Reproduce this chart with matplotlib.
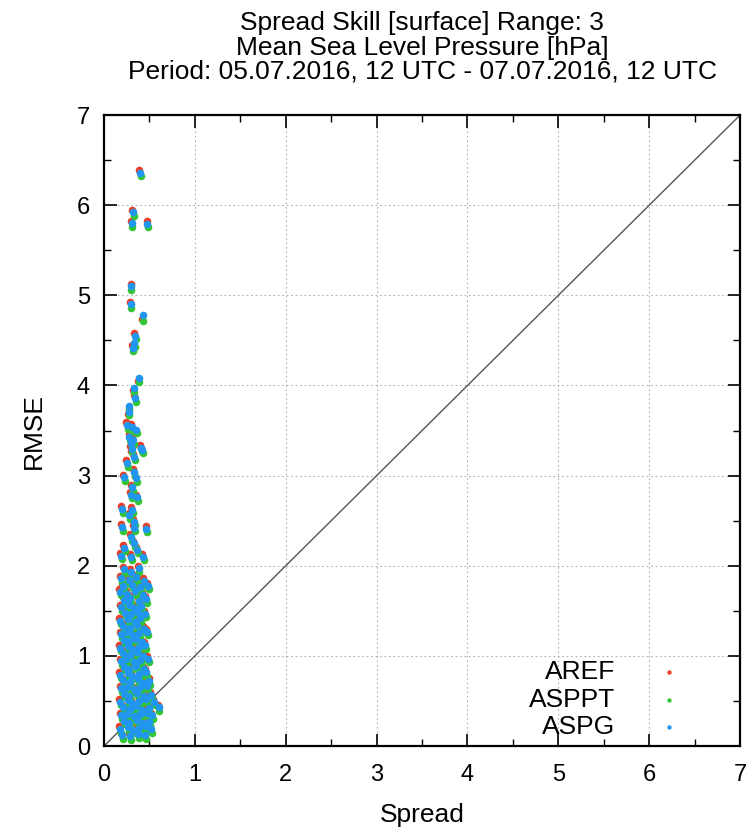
import matplotlib
matplotlib.use("Agg")
import matplotlib.pyplot as plt
import numpy as np

plt.rcParams['font.family'] = ['Liberation Sans', 'DejaVu Sans']

TITLE = ("Spread Skill [surface] Range: 3\n"
         "Mean Sea Level Pressure [hPa]\n"
         "Period: 05.07.2016, 12 UTC - 07.07.2016, 12 UTC")

SERIES_NAMES = ["AREF", "ASPPT", "ASPG"]
COLORS = {"AREF": "#ea3f26", "ASPPT": "#34c536", "ASPG": "#2196f0"}

# (spread, rmse) per station
aref = [
    (0.39, 6.39), (0.31, 5.95), (0.30, 5.83), (0.47, 5.83), (0.30, 5.13), (0.29, 4.93),
    (0.42, 4.74), (0.33, 4.58), (0.33, 4.44), (0.31, 4.45), (0.37, 4.05), (0.32, 3.95),
    (0.33, 3.89), (0.27, 3.74), (0.26, 3.68), (0.24, 3.59), (0.30, 3.57), (0.34, 3.48),
    (0.27, 3.46), (0.31, 3.42), (0.40, 3.34), (0.29, 3.33), (0.30, 3.27), (0.41, 3.31),
    (0.32, 3.24), (0.24, 3.17), (0.32, 3.07), (0.21, 3.01), (0.34, 3.00), (0.30, 2.90),
    (0.29, 2.82), (0.35, 2.79), (0.19, 2.66), (0.30, 2.65), (0.27, 2.59), (0.32, 2.52),
    (0.19, 2.46), (0.32, 2.45), (0.46, 2.44), (0.29, 2.35), (0.32, 2.28), (0.21, 2.23),
    (0.35, 2.21), (0.18, 2.14), (0.29, 2.13), (0.42, 2.13),
    (0.21, 1.99), (0.29, 1.96), (0.37, 2.00),
    (0.18, 1.89), (0.26, 1.87), (0.34, 1.90), (0.43, 1.86),
    (0.20, 1.80), (0.30, 1.82), (0.39, 1.79), (0.47, 1.81),
    (0.17, 1.74), (0.24, 1.72), (0.33, 1.75), (0.42, 1.71),
    (0.21, 1.65), (0.28, 1.67), (0.37, 1.64), (0.45, 1.66),
    (0.18, 1.57), (0.26, 1.59), (0.32, 1.56), (0.40, 1.58),
    (0.22, 1.51), (0.29, 1.49), (0.36, 1.52), (0.44, 1.50),
    (0.17, 1.42), (0.25, 1.44), (0.33, 1.41), (0.39, 1.45),
    (0.20, 1.36), (0.28, 1.34), (0.35, 1.37), (0.43, 1.33),
    (0.18, 1.27), (0.24, 1.29), (0.31, 1.26), (0.38, 1.28), (0.46, 1.30),
    (0.21, 1.21), (0.27, 1.19), (0.34, 1.22), (0.41, 1.18),
    (0.17, 1.12), (0.25, 1.14), (0.30, 1.11), (0.37, 1.13), (0.44, 1.15),
    (0.20, 1.06), (0.28, 1.04), (0.35, 1.07), (0.42, 1.03),
    (0.18, 0.97), (0.23, 0.99), (0.32, 0.96), (0.39, 0.98), (0.47, 1.00),
    (0.21, 0.91), (0.27, 0.89), (0.34, 0.92), (0.43, 0.88),
    (0.17, 0.82), (0.25, 0.84), (0.30, 0.81), (0.38, 0.83), (0.45, 0.85),
    (0.20, 0.76), (0.28, 0.74), (0.36, 0.77), (0.42, 0.73), (0.49, 0.75),
    (0.18, 0.67), (0.24, 0.69), (0.32, 0.66), (0.39, 0.68), (0.46, 0.70),
    (0.21, 0.61), (0.27, 0.59), (0.35, 0.62), (0.43, 0.58), (0.51, 0.60),
    (0.17, 0.52), (0.25, 0.54), (0.30, 0.51), (0.38, 0.53), (0.45, 0.55), (0.54, 0.52),
    (0.20, 0.46), (0.28, 0.44), (0.34, 0.47), (0.41, 0.43), (0.48, 0.45), (0.59, 0.46),
    (0.18, 0.37), (0.24, 0.39), (0.32, 0.36), (0.39, 0.38), (0.46, 0.40), (0.52, 0.37),
    (0.21, 0.31), (0.27, 0.29), (0.35, 0.32), (0.42, 0.28), (0.49, 0.30),
    (0.17, 0.22), (0.25, 0.24), (0.31, 0.21), (0.38, 0.23), (0.45, 0.25), (0.51, 0.22),
    (0.19, 0.15), (0.28, 0.14), (0.36, 0.16), (0.44, 0.15),
]

asppt = [
    (0.41, 6.32), (0.33, 5.88), (0.31, 5.76), (0.48, 5.76), (0.30, 5.06), (0.30, 4.86),
    (0.43, 4.72), (0.35, 4.51), (0.34, 4.43), (0.32, 4.38), (0.39, 4.04), (0.33, 3.93),
    (0.35, 3.82), (0.28, 3.73), (0.28, 3.67), (0.26, 3.52), (0.32, 3.50), (0.36, 3.47),
    (0.29, 3.39), (0.33, 3.35), (0.42, 3.27), (0.31, 3.32), (0.31, 3.26), (0.43, 3.25),
    (0.34, 3.17), (0.26, 3.10), (0.34, 3.00), (0.23, 2.94), (0.36, 2.93), (0.32, 2.83),
    (0.31, 2.75), (0.37, 2.72), (0.21, 2.59), (0.32, 2.58), (0.29, 2.52), (0.34, 2.45),
    (0.21, 2.39), (0.34, 2.38), (0.47, 2.37), (0.31, 2.28), (0.34, 2.21), (0.23, 2.16),
    (0.37, 2.14), (0.20, 2.07), (0.31, 2.06), (0.44, 2.06),
    (0.23, 1.92), (0.31, 1.89), (0.39, 1.93),
    (0.20, 1.82), (0.28, 1.80), (0.36, 1.83), (0.45, 1.79),
    (0.22, 1.73), (0.32, 1.75), (0.41, 1.72), (0.49, 1.74),
    (0.19, 1.67), (0.26, 1.65), (0.35, 1.68), (0.44, 1.64),
    (0.23, 1.58), (0.30, 1.60), (0.39, 1.57), (0.47, 1.59),
    (0.20, 1.50), (0.28, 1.52), (0.34, 1.49), (0.42, 1.51),
    (0.24, 1.44), (0.31, 1.42), (0.38, 1.45), (0.46, 1.43),
    (0.19, 1.35), (0.27, 1.37), (0.35, 1.34), (0.41, 1.38),
    (0.22, 1.29), (0.30, 1.27), (0.37, 1.30), (0.45, 1.26),
    (0.20, 1.20), (0.26, 1.22), (0.33, 1.19), (0.40, 1.21), (0.48, 1.23),
    (0.23, 1.14), (0.29, 1.12), (0.36, 1.15), (0.43, 1.11),
    (0.19, 1.05), (0.27, 1.07), (0.32, 1.04), (0.39, 1.06), (0.46, 1.08),
    (0.22, 0.99), (0.30, 0.97), (0.37, 1.00), (0.44, 0.96),
    (0.20, 0.90), (0.25, 0.92), (0.34, 0.89), (0.41, 0.91), (0.49, 0.93),
    (0.23, 0.84), (0.29, 0.82), (0.36, 0.85), (0.45, 0.81),
    (0.19, 0.75), (0.27, 0.77), (0.32, 0.74), (0.40, 0.76), (0.47, 0.78),
    (0.22, 0.69), (0.30, 0.67), (0.38, 0.70), (0.44, 0.66), (0.51, 0.68),
    (0.20, 0.60), (0.26, 0.62), (0.34, 0.59), (0.41, 0.61), (0.48, 0.63),
    (0.23, 0.54), (0.29, 0.52), (0.37, 0.55), (0.45, 0.51), (0.53, 0.53),
    (0.19, 0.45), (0.27, 0.47), (0.32, 0.44), (0.40, 0.46), (0.47, 0.48), (0.56, 0.45),
    (0.22, 0.39), (0.30, 0.37), (0.36, 0.40), (0.43, 0.36), (0.50, 0.38), (0.61, 0.39),
    (0.20, 0.30), (0.26, 0.32), (0.34, 0.29), (0.41, 0.31), (0.48, 0.33), (0.54, 0.30),
    (0.23, 0.24), (0.29, 0.22), (0.37, 0.25), (0.44, 0.21), (0.51, 0.23),
    (0.19, 0.15), (0.27, 0.17), (0.33, 0.14), (0.40, 0.16), (0.47, 0.18), (0.53, 0.15),
    (0.21, 0.08), (0.30, 0.07), (0.38, 0.09), (0.46, 0.08),
]

aspg = [
    (0.40, 6.36), (0.32, 5.92), (0.31, 5.80), (0.47, 5.79), (0.30, 5.10), (0.30, 4.90),
    (0.43, 4.78), (0.34, 4.55), (0.33, 4.47), (0.32, 4.42), (0.38, 4.08), (0.33, 3.97),
    (0.34, 3.86), (0.28, 3.77), (0.27, 3.71), (0.25, 3.56), (0.31, 3.54), (0.35, 3.51),
    (0.28, 3.43), (0.32, 3.39), (0.41, 3.31), (0.30, 3.36), (0.31, 3.30), (0.42, 3.28),
    (0.33, 3.21), (0.25, 3.14), (0.33, 3.04), (0.22, 2.98), (0.35, 2.97), (0.31, 2.87),
    (0.30, 2.79), (0.36, 2.76), (0.20, 2.63), (0.31, 2.62), (0.28, 2.56), (0.33, 2.49),
    (0.20, 2.43), (0.33, 2.42), (0.46, 2.41), (0.30, 2.32), (0.33, 2.25), (0.22, 2.20),
    (0.36, 2.18), (0.19, 2.11), (0.30, 2.10), (0.43, 2.10),
    (0.22, 1.96), (0.30, 1.93), (0.38, 1.97),
    (0.19, 1.86), (0.27, 1.84), (0.35, 1.87), (0.44, 1.83),
    (0.21, 1.77), (0.31, 1.79), (0.40, 1.76), (0.48, 1.78),
    (0.18, 1.71), (0.25, 1.69), (0.34, 1.72), (0.43, 1.68),
    (0.22, 1.62), (0.29, 1.64), (0.38, 1.61), (0.46, 1.63),
    (0.19, 1.54), (0.27, 1.56), (0.33, 1.53), (0.41, 1.55),
    (0.23, 1.48), (0.30, 1.46), (0.37, 1.49), (0.45, 1.47),
    (0.18, 1.39), (0.26, 1.41), (0.34, 1.38), (0.40, 1.42),
    (0.21, 1.33), (0.29, 1.31), (0.36, 1.34), (0.44, 1.30),
    (0.19, 1.24), (0.25, 1.26), (0.32, 1.23), (0.39, 1.25), (0.47, 1.27),
    (0.22, 1.18), (0.28, 1.16), (0.35, 1.19), (0.42, 1.15),
    (0.18, 1.09), (0.26, 1.11), (0.31, 1.08), (0.38, 1.10), (0.45, 1.12),
    (0.21, 1.03), (0.29, 1.01), (0.36, 1.04), (0.43, 1.00),
    (0.19, 0.94), (0.24, 0.96), (0.33, 0.93), (0.40, 0.95), (0.48, 0.97),
    (0.22, 0.88), (0.28, 0.86), (0.35, 0.89), (0.44, 0.85),
    (0.18, 0.79), (0.26, 0.81), (0.31, 0.78), (0.39, 0.80), (0.46, 0.82),
    (0.21, 0.73), (0.29, 0.71), (0.37, 0.74), (0.43, 0.70), (0.50, 0.72),
    (0.19, 0.64), (0.25, 0.66), (0.33, 0.63), (0.40, 0.65), (0.47, 0.67),
    (0.22, 0.58), (0.28, 0.56), (0.36, 0.59), (0.44, 0.55), (0.52, 0.57),
    (0.18, 0.49), (0.26, 0.51), (0.31, 0.48), (0.39, 0.50), (0.46, 0.52), (0.55, 0.49),
    (0.21, 0.43), (0.29, 0.41), (0.35, 0.44), (0.42, 0.40), (0.49, 0.42), (0.60, 0.43),
    (0.19, 0.34), (0.25, 0.36), (0.33, 0.33), (0.40, 0.35), (0.47, 0.37), (0.53, 0.34),
    (0.22, 0.28), (0.28, 0.26), (0.36, 0.29), (0.43, 0.25), (0.50, 0.27),
    (0.18, 0.19), (0.26, 0.21), (0.32, 0.18), (0.39, 0.20), (0.46, 0.22), (0.52, 0.19),
    (0.20, 0.12), (0.29, 0.11), (0.37, 0.13), (0.45, 0.12),
]

AXIS_MAX = 7

fig = plt.figure(figsize=(7.51, 8.33), dpi=100)
ax = fig.add_axes([0.1385, 0.1044, 0.847, 0.7575])

# ---- reference diagonal ----
ax.plot([0, AXIS_MAX], [0, AXIS_MAX], color='#555555', linewidth=1.0, zorder=2)

# ---- scatter: red first, then green, blue on top ----
for name, pts in zip(SERIES_NAMES, [aref, asppt, aspg]):
    arr = np.array(pts)
    ax.scatter(arr[:, 0], arr[:, 1], s=30, color=COLORS[name],
               linewidths=0, zorder=3)

# ---- legend, gnuplot style (text right, dot after) ----
for i, name in enumerate(SERIES_NAMES):
    yy = 0.117 - i * 0.0435
    ax.text(0.804, yy, name, transform=ax.transAxes, ha='right', va='center',
            fontsize=19)
    ax.scatter([0.888], [yy], s=10, color=COLORS[name], linewidths=0,
               transform=ax.transAxes, zorder=4, clip_on=False)

ax.set_xlim(0, AXIS_MAX)
ax.set_ylim(0, AXIS_MAX)
ax.set_xticks(range(AXIS_MAX + 1))
ax.set_yticks(range(AXIS_MAX + 1))
ax.set_xticks(np.arange(0.5, AXIS_MAX, 1.0), minor=True)
ax.set_yticks(np.arange(0.5, AXIS_MAX, 1.0), minor=True)
ax.tick_params(which='both', direction='in', top=True, right=True,
               labelsize=17, color='black')
ax.tick_params(axis='x', which='major', pad=13)
ax.tick_params(axis='y', which='major', pad=10)
ax.tick_params(which='major', length=9, width=1.2)
ax.tick_params(which='minor', length=5, width=1.0)
ax.grid(True, which='major', color='#b0b0b0', linestyle=(0, (1.5, 2.5)),
        linewidth=0.8, zorder=1)
ax.set_axisbelow(True)
for sp in ax.spines.values():
    sp.set_linewidth(1.6)

ax.set_xlabel('Spread', fontsize=19, labelpad=12)
ax.set_ylabel('RMSE', fontsize=19, labelpad=22)
ax.set_title(TITLE, fontsize=19, linespacing=1.02, pad=26)

fig.savefig('out.png', dpi=100)
